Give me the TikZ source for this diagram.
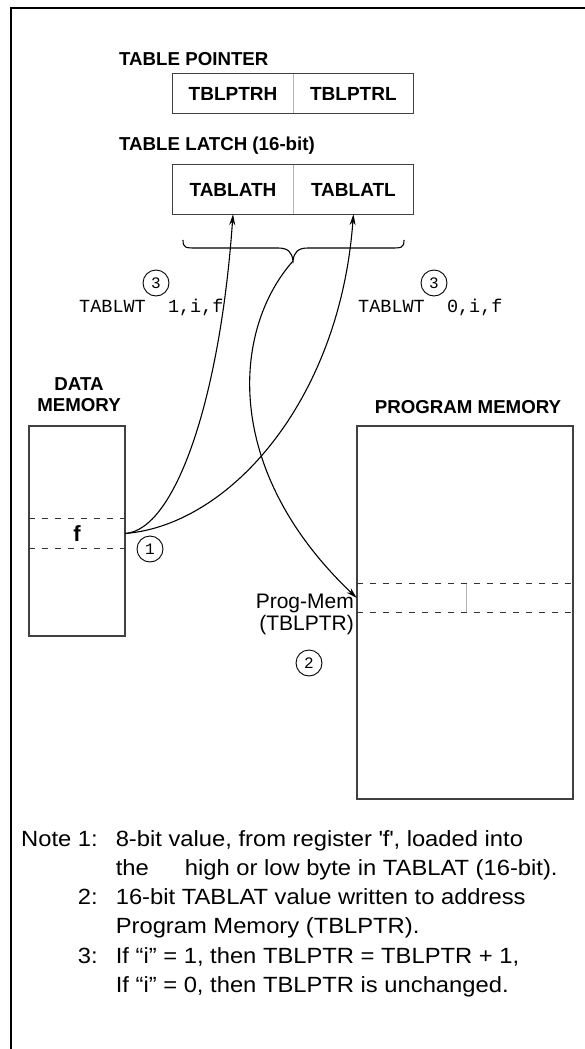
\documentclass[tikz,border=0pt]{standalone}
\usepackage{fontspec}
\setmainfont{Liberation Sans}
\setmonofont{Liberation Mono}
\newfontfamily\notefont[FakeStretch=1.08]{Liberation Sans}
\usetikzlibrary{arrows.meta, positioning}

\begin{document}
\begin{tikzpicture}[x=1pt, y=-1pt, >={Stealth[length=11pt,width=6pt]},
    font=\fontsize{21}{22}\selectfont]
  \tikzset{
    boxline/.style={draw=black!75, line width=1.3pt},
    cell/.style={
      inner sep=0pt,
      minimum width=120pt,
      font=\bfseries\fontsize{19}{20}\selectfont,
      text centered},
    head/.style={
      inner sep=0pt,
      font=\bfseries\fontsize{18.7}{21}\selectfont},
    membox/.style={
      boxline,
      inner sep=0pt},
    slot/.style={
      inner sep=0pt},
    slotline/.style={draw=black!80, line width=0.9pt, dash pattern=on 6pt off 7pt},
    divider/.style={draw=black!30, line width=1pt},
    num/.style={
      circle,
      draw=black,
      line width=0.9pt,
      inner sep=0pt,
      minimum size=26pt,
      font=\ttfamily\fontsize{16}{16}\selectfont},
    code/.style={
      inner sep=0pt,
      font=\ttfamily\fontsize{18.5}{20}\selectfont},
    wire/.style={line width=1.1pt}}

  \useasboundingbox (0,0) rectangle (585,1049);
  \draw[line width=2.5pt] (11,1049) -- (11,8) -- (585,8);

  % table pointer and table latch
  \node[head, anchor=west] (ptrlabel) at (119,59) {TABLE POINTER};
  \node[cell, minimum height=39pt] (ptrh) at (233,93.5) {TBLPTRH};
  \node[cell, minimum height=39pt] (ptrl) [right=0pt of ptrh] {TBLPTRL};
  \draw[boxline] (ptrh.north west) rectangle (ptrl.south east);
  \draw[divider] (ptrh.north east) -- (ptrh.south east);

  \node[head, anchor=west] (latlabel) at (119,146) {TABLE LATCH (16-bit)};
  \node[cell, minimum height=49pt] (tablath) at (233,189.5) {TABLATH};
  \node[cell, minimum height=49pt] (tablatl) [right=0pt of tablath] {TABLATL};
  \draw[boxline] (tablath.north west) rectangle (tablatl.south east);
  \draw[divider] (tablath.north east) -- (tablath.south east);

  % brace below the latch
  \coordinate (bracetip) at (293,261);
  \draw[wire] (183,240) .. controls (183,248) and (186,248) .. (196,248) -- (278,248)
    .. controls (288,248) and (292,252) .. (bracetip)
    .. controls (294,252) and (298,248) .. (308,248) -- (391,248)
    .. controls (401,248) and (404,248) .. (404,240);

  \node[num] (n3l) at (156,283) {3};
  \node[num] (n3r) at (434,283) {3};
  \node[code, anchor=west] (wt1) at (79,307) {TABLWT\ \ 1,i,f};
  \node[code, anchor=west] (wt0) at (358,307) {TABLWT\ \ 0,i,f};

  % data memory
  \node[head, align=center] (datalabel) at (79,395) {DATA\\MEMORY};
  \node[membox, minimum width=96pt, minimum height=210pt] (datamem) at (77,531) {};
  \node[slot, minimum width=96pt, minimum height=29pt,
    font=\bfseries\fontsize{22}{22}\selectfont] (fslot) at (77,533.5) {f};
  \draw[slotline] (fslot.north west) -- (fslot.north east);
  \draw[slotline] (fslot.south west) -- (fslot.south east);
  \node[num] (n1) at (150,549) {1};

  % program memory
  \node[head] (proglabel) at (468,407) {PROGRAM MEMORY};
  \node[membox, minimum width=216pt, minimum height=373pt] (progmem) at (465,612.5) {};
  \node[slot, minimum width=216pt, minimum height=28pt] (pslot) at (465,598) {};
  \draw[slotline] (pslot.north west) -- (pslot.north east);
  \draw[slotline] (pslot.south west) -- (pslot.south east);
  \draw[divider] ([xshift=1pt]pslot.north) -- ([xshift=1pt]pslot.south);
  \node[align=right, anchor=east, inner sep=0pt] (pmlabel) at (354,614) {Prog-Mem\\(TBLPTR)};
  \node[num] (n2) at (309,663) {2};

  % transfers
  \draw[->, wire] (fslot.east) .. controls (175,530) and (220,400) .. (tablath.south);
  \draw[->, wire] (fslot.east) .. controls (230,525) and (340,400) .. (tablatl.south);
  \draw[->, wire] (bracetip) .. controls (232,330) and (222,470) .. (pslot.west);

  % notes
  \node[anchor=north west, inner sep=0pt, font=\notefont\fontsize{22}{29.2}\selectfont] (notes) at (21,825.6) {%
    \begin{tabular}{@{}r@{\hspace{18pt}}l@{}}
      Note 1: & 8-bit value, from register \textquotesingle f\textquotesingle, loaded into\\
              & the\hspace{36pt}high or low byte in TABLAT (16-bit).\\
      2:      & 16-bit TABLAT value written to address\\
              & Program Memory (TBLPTR).\\
      3:      & If “i” = 1, then TBLPTR = TBLPTR + 1,\\
              & If “i” = 0, then TBLPTR is unchanged.
    \end{tabular}};
\end{tikzpicture}
\end{document}
